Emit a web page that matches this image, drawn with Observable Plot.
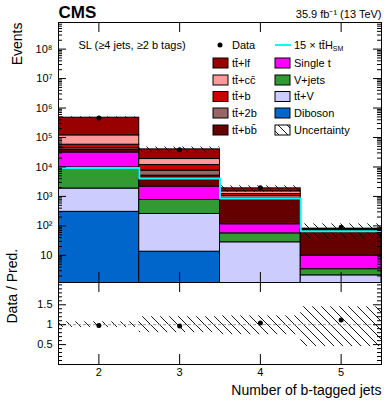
<!DOCTYPE html>
<html><head><meta charset="utf-8">
<script src="https://cdn.jsdelivr.net/npm/d3@7"></script>
<script src="https://cdn.jsdelivr.net/npm/@observablehq/plot@0.6"></script>
<style>
body{margin:0;background:#fff;}
#chart{width:390px;height:403px;font-family:"Liberation Sans",Arial,Helvetica,sans-serif;}
#chart svg{display:block;}
</style></head><body>
<svg width="0" height="0" style="position:absolute"><defs>
<pattern id="hatch" patternUnits="userSpaceOnUse" width="9" height="9">
<path d="M-1,-1L10,10M-1,8L1,10M8,-1L10,1" stroke="#000" stroke-width="0.9"/>
</pattern></defs></svg>
<div id="chart"></div>
<script>
// ---- data ----
const nbtags = [2, 3, 4, 5];
const processes = ["Diboson", "tt̄+V", "V+jets", "Single t", "tt̄+bb̄", "tt̄+2b", "tt̄+b", "tt̄+cc̄", "tt̄+lf"];
const processColors = ["#0066cc", "#ccccff", "#339933", "#ff00ff", "#660000", "#996666", "#cc0000", "#ff9999", "#990000"];
const diboson = [300, 13.3, 0.8, 0.2];
const ttV = [1550, 241, 27, 1.9];
const vjets = [7850, 505, 28, 1.3];
const singleT = [21300, 1400, 58, 6.3];
const ttbb = [7700, 2920, 729, 52];
const tt2b = [5200, 2440, 192, 6];
const ttb = [13100, 4080, 175, 4];
const ttcc = [61000, 7000, 280, 5];
const ttlf = [352000, 21000, 390, 4];
const ttH15 = [9200, 4030, 850, 66];
const dataEvents = [461000, 38200, 1955, 90];
const uncLow = [0.93, 0.80, 0.75, 0.45];
const uncHigh = [1.07, 1.20, 1.22, 1.45];
const yTickValues = [10, 1e2, 1e3, 1e4, 1e5, 1e6, 1e7, 1e8];
const ratioTickValues = [0.5, 1, 1.5];

// ---- derived tables ----
const series = [diboson, ttV, vjets, singleT, ttbb, tt2b, ttb, ttcc, ttlf];
const stackRows = [];
const totals = nbtags.map(() => 0);
series.forEach((vals, p) => {
  vals.forEach((v, i) => {
    stackRows.push({bin: nbtags[i], process: processes[p], y1: Math.max(totals[i], 1e-3), y2: totals[i] + v});
    totals[i] += v;
  });
});
const bins = nbtags.map((b, i) => ({bin: b, tot: totals[i], lo: uncLow[i], hi: uncHigh[i], data: dataEvents[i], ratio: dataEvents[i] / totals[i]}));
const stepPts = nbtags.flatMap((b, i) => [{x: b - 0.5, y: ttH15[i]}, {x: b + 0.5, y: ttH15[i]}]);
const minorY = d3.range(0, 9).flatMap(k => d3.range(2, 10).map(m => m * 10 ** k));
const minorR = d3.range(1, 21).map(i => i / 10).filter(v => !ratioTickValues.includes(v));
const sup = s => s.replace(/\d/g, c => "⁰¹²³⁴⁵⁶⁷⁸⁹"[+c]);
const fmtY = d => d === 10 ? "10" : "10" + sup(String(Math.round(Math.log10(d))));

const FONT = '"Liberation Sans",Arial,Helvetica,sans-serif';
const W = 390, ML = 58, MR = 9;
const FW = W - ML - MR;
const xDomain = [1.5, 5.5];

const main = Plot.plot({
  width: W, height: 282, marginLeft: ML, marginRight: MR, marginTop: 22, marginBottom: 0,
  style: {fontFamily: FONT, fontSize: "11px", color: "black", background: "white", overflow: "visible"},
  x: {domain: xDomain, axis: null},
  y: {type: "log", domain: [1.2, 8e8], axis: null},
  color: {domain: processes, range: processColors},
  marks: [
    Plot.rect(stackRows, {x1: d => d.bin - 0.5, x2: d => d.bin + 0.5, y1: "y1", y2: "y2", fill: "process", stroke: "black", strokeWidth: 1, clip: true}),
    Plot.rect(bins, {x1: d => d.bin - 0.5, x2: d => d.bin + 0.5, y1: d => d.tot * d.lo, y2: d => d.tot * d.hi, fill: "url(#hatch)", clip: true}),
    Plot.line(stepPts, {x: "x", y: "y", stroke: "#00ffff", strokeWidth: 2}),
    Plot.dot(bins, {x: "bin", y: "data", r: 2.5, fill: "black"}),
    Plot.axisY({ticks: yTickValues, tickSize: 0, tickPadding: 6, tickFormat: fmtY, fontSize: 11}),
    Plot.tickY(yTickValues, {y: d => d, insetRight: FW - 8}),
    Plot.tickY(minorY, {y: d => d, insetRight: FW - 4, clip: true}),
    Plot.tickY(yTickValues, {y: d => d, insetLeft: FW - 8}),
    Plot.tickY(minorY, {y: d => d, insetLeft: FW - 4, clip: true}),
    Plot.tickX(nbtags, {x: d => d, insetTop: 250}),
    Plot.tickX(nbtags, {x: d => d, insetBottom: 250}),
    Plot.frame({stroke: "black"}),
    Plot.text(["CMS"], {frameAnchor: "top-left", textAnchor: "start", lineAnchor: "bottom", dy: -5, fontSize: 17, fontWeight: "bold"}),
    Plot.text(["35.9 fb⁻¹ (13 TeV)"], {frameAnchor: "top-right", textAnchor: "end", lineAnchor: "bottom", dy: -5, fontSize: 11}),
    Plot.text(["Events"], {frameAnchor: "top-left", textAnchor: "end", rotate: -90, dx: -46, fontSize: 14}),
    Plot.text(["SL (≥4 jets, ≥2 b tags)"], {frameAnchor: "top-left", textAnchor: "start", lineAnchor: "bottom", dx: 20, dy: 26, fontSize: 11})
  ]
});

// ---- legend (layout in px inside main svg) ----
const svg = d3.select(main);
const lg = svg.append("g").attr("font-family", FONT).attr("font-size", 11).attr("text-anchor", "start");
const col1 = {box: 213, text: 232};
const col2 = {box: 275, text: 294};
const rowY = [63, 80, 96.5, 113, 130];
const colorOf = p => processColors[processes.indexOf(p)];
lg.append("circle").attr("cx", 220).attr("cy", 45).attr("r", 2.5).attr("fill", "black");
lg.append("text").attr("x", col1.text).attr("y", 45).attr("dy", "0.35em").text("Data");
lg.append("line").attr("x1", col2.box).attr("x2", col2.box + 16).attr("y1", 45).attr("y2", 45).attr("stroke", "#00ffff").attr("stroke-width", 2);
const tH = lg.append("text").attr("x", col2.text).attr("y", 45).attr("dy", "0.35em");
tH.append("tspan").text("15 × tt̄H");
tH.append("tspan").attr("font-size", 7).attr("dy", "0.35em").text("SM");
const left = ["tt̄+lf", "tt̄+cc̄", "tt̄+b", "tt̄+2b", "tt̄+bb̄"];
const right = ["Single t", "V+jets", "tt̄+V", "Diboson", "Uncertainty"];
left.forEach((p, i) => {
  lg.append("rect").attr("x", col1.box).attr("y", rowY[i] - 5).attr("width", 15).attr("height", 10).attr("fill", colorOf(p)).attr("stroke", "black");
  lg.append("text").attr("x", col1.text).attr("y", rowY[i]).attr("dy", "0.35em").text(p);
});
right.forEach((p, i) => {
  lg.append("rect").attr("x", col2.box).attr("y", rowY[i] - 5).attr("width", 15).attr("height", 10)
    .attr("fill", p === "Uncertainty" ? "url(#hatch)" : colorOf(p)).attr("stroke", "black");
  lg.append("text").attr("x", col2.text).attr("y", rowY[i]).attr("dy", "0.35em").text(p);
});

const ratio = Plot.plot({
  width: W, height: 121, marginLeft: ML, marginRight: MR, marginTop: 0, marginBottom: 39,
  style: {fontFamily: FONT, fontSize: "11px", color: "black", background: "white", overflow: "visible"},
  x: {domain: xDomain, axis: null},
  y: {domain: [0, 2.06], axis: null},
  marks: [
    Plot.rect(bins, {x1: d => d.bin - 0.5, x2: d => d.bin + 0.5, y1: "lo", y2: "hi", fill: "url(#hatch)"}),
    Plot.ruleY([1], {stroke: "#999", strokeDasharray: "3,2"}),
    Plot.dot(bins, {x: "bin", y: "ratio", r: 2.5, fill: "black"}),
    Plot.axisX({ticks: nbtags, tickSize: 0, tickPadding: 4, tickFormat: d => String(d), fontSize: 11, label: null}),
    Plot.axisY({ticks: ratioTickValues, tickSize: 0, tickPadding: 6, tickFormat: d => String(d), fontSize: 11, label: null}),
    Plot.tickY(ratioTickValues, {y: d => d, insetRight: FW - 8}),
    Plot.tickY(minorR, {y: d => d, insetRight: FW - 4}),
    Plot.tickY(ratioTickValues, {y: d => d, insetLeft: FW - 8}),
    Plot.tickY(minorR, {y: d => d, insetLeft: FW - 4}),
    Plot.tickX(nbtags, {x: d => d, insetTop: 72}),
    Plot.tickX(nbtags, {x: d => d, insetBottom: 72}),
    Plot.frame({stroke: "black"}),
    Plot.text(["Number of b-tagged jets"], {frameAnchor: "bottom-right", textAnchor: "end", lineAnchor: "bottom", dy: 30, fontSize: 14}),
    Plot.text(["Data / Pred."], {frameAnchor: "left", rotate: -90, dx: -46, fontSize: 14})
  ]
});

const chart = document.getElementById("chart");
chart.append(main, ratio);
</script>
</body></html>
